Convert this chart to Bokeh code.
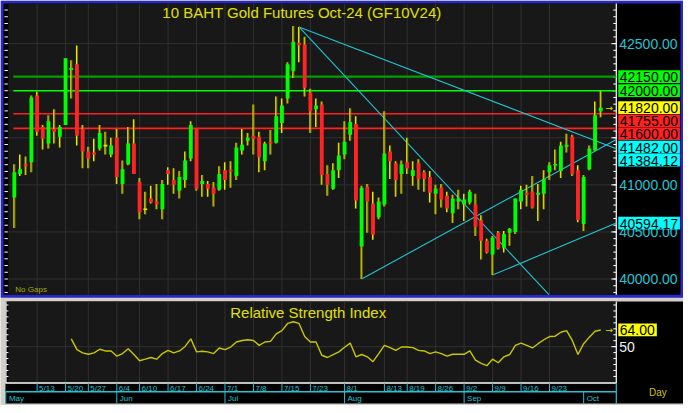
from bokeh.plotting import figure
from bokeh.models import Range1d
from bokeh.embed import file_html
from bokeh.resources import INLINE
from bokeh.core.properties import value

# ---------------- data ----------------
opens = [40865, 41115, 41219, 41240, 41948, 41615, 41438, 41594, 41510, 41635,
         42219, 42281, 41594, 41354, 41344, 41385, 41417, 41323, 41500, 41010,
         41219, 41438, 41031, 40740, 40854, 40823, 40740, 41156, 41052, 40938,
         41052, 41281, 41594, 41010, 41010, 40969, 40948, 41156, 41156, 41094,
         41365, 41469, 41521, 41510, 41250, 41458, 41448, 41656, 41917, 42208,
         42510, 42490, 41979, 41802, 41854, 41115, 40958, 41156, 41323, 41531,
         41646, 40344, 40979, 40802, 40656, 40792, 41354, 41229, 41115, 41240,
         41094, 41229, 41135, 41083, 40906, 40969, 40885, 40698, 40823, 40792,
         40813, 40792, 40625, 40406, 40260, 40490, 40333, 40490, 40500, 40823,
         40917, 40927, 40896, 40906, 41135, 41208, 41146, 41406, 41510, 41156,
         40583, 41167, 41365, 41781]
highs = [41219, 41323, 41302, 41948, 41990, 41635, 41740, 41802, 41635, 42344,
         42323, 42479, 41635, 41406, 41490, 41635, 41563, 41500, 41594, 41260,
         41615, 41698, 41073, 40927, 40990, 41010, 41052, 41188, 41177, 41146,
         41354, 41677, 41594, 41104, 41042, 41031, 41198, 41240, 41250, 41448,
         41594, 41552, 41854, 41563, 41458, 41583, 41938, 41917, 42302, 42688,
         42677, 42573, 42021, 41917, 41885, 41208, 41229, 41448, 41677, 41813,
         41729, 40990, 41010, 40927, 40865, 41781, 41417, 41250, 41260, 41500,
         41250, 41271, 41156, 41146, 41000, 41010, 40927, 40896, 40948, 40906,
         40948, 40906, 40677, 40427, 40458, 40510, 40510, 40542, 40854, 40990,
         41000, 41094, 41010, 41156, 41240, 41375, 41458, 41542, 41531, 41208,
         41104, 41417, 41885, 42000]
lows = [40542, 41094, 41104, 41135, 41521, 41375, 41385, 41438, 41396, 41635,
        41917, 41417, 41177, 41177, 41250, 41365, 41323, 41292, 41010, 40906,
        41208, 41115, 40635, 40688, 40802, 40740, 40635, 41000, 40906, 40854,
        40969, 41250, 40938, 40875, 40875, 40771, 40938, 40948, 40969, 41052,
        41323, 41417, 41323, 41135, 41156, 41323, 41438, 41552, 41865, 42135,
        42302, 41938, 41552, 41615, 41000, 40885, 40948, 41073, 41271, 41469,
        40750, 40000, 40490, 40417, 40635, 40771, 41063, 40875, 40906, 41115,
        40990, 40948, 40927, 40813, 40688, 40760, 40708, 40594, 40740, 40615,
        40792, 40458, 40208, 40271, 40042, 40313, 40281, 40354, 40479, 40740,
        40771, 40750, 40615, 40740, 41052, 41156, 41073, 41344, 41094, 40604,
        40510, 41156, 41365, 41719]
closes = [41135, 41167, 41198, 41927, 41563, 41490, 41677, 41563, 41615, 42344,
          42240, 41521, 41354, 41281, 41323, 41552, 41417, 41417, 41083, 41167,
          41438, 41115, 40708, 40740, 40813, 40792, 41010, 41115, 41000, 41083,
          41260, 41635, 40958, 41042, 40958, 40906, 41115, 41052, 41146, 41396,
          41427, 41500, 41490, 41292, 41438, 41438, 41729, 41844, 42281, 42521,
          42479, 42031, 41781, 41844, 41104, 41000, 41156, 41313, 41458, 41667,
          40833, 40969, 40823, 40469, 40823, 41333, 41250, 41052, 41219, 41177,
          41156, 41063, 41063, 40917, 40958, 40844, 40750, 40854, 40854, 40844,
          40927, 40552, 40406, 40281, 40438, 40323, 40479, 40531, 40854, 40948,
          40896, 40760, 40917, 41063, 41208, 41219, 41417, 41427, 41115, 40625,
          41083, 41385, 41740, 41820]

rsi_first_bar = 10
rsi_values = [56.6, 47.5, 44.8, 43.6, 44.8, 47.8, 46.4, 46.4, 42.0, 44.2,
              48.3, 43.4, 38.2, 39.5, 40.9, 39.5, 44.2, 46.9, 44.8, 46.4,
              50.2, 56.6, 45.6, 46.1, 45.6, 44.2, 48.9, 47.5, 49.7, 53.9,
              55.2, 55.8, 55.2, 51.1, 53.9, 54.4, 60.7, 63.5, 69.5, 70.9,
              69.5, 58.5, 53.9, 53.9, 42.8, 40.9, 43.4, 45.6, 49.5, 53.0,
              41.5, 43.4, 41.5, 37.4, 44.2, 51.1, 49.2, 46.9, 49.7, 49.7,
              49.2, 46.9, 46.4, 44.2, 45.6, 44.2, 42.0, 43.6, 43.6, 43.6,
              46.4, 38.7, 36.0, 34.0, 39.5, 36.5, 41.5, 43.4, 51.1, 53.0,
              51.1, 48.9, 52.5, 55.8, 58.5, 58.8, 62.1, 63.5, 55.2, 43.4,
              52.5, 58.0, 62.9, 64.0]

date_tick_bars = [4, 9, 13, 18, 22, 27, 32, 37, 42, 47, 52, 58, 65, 69, 74, 79, 84, 89, 94]
date_tick_labels = ["5/13", "5/20", "5/27", "6/4", "6/10", "6/17", "6/24", "7/1", "7/8",
                    "7/15", "7/23", "8/1", "8/13", "8/19", "8/26", "9/2", "9/9", "9/16", "9/23"]
month_tick_bars = [-1.5, 18, 37, 58, 79, 100]
month_labels = ["May", "Jun", "Jul", "Aug", "Sep", "Oct"]

price_ticks = [40000, 40500, 41000, 41500, 42000, 42500]
rsi_ticks = [50]

level_prices = [42150, 42000, 41755, 41600]
level_colors = ["#00a000", "#00ff00", "#ff2020", "#ff2020"]

trend_x0 = [50, 50, 61, 84]
trend_y0 = [42677, 42677, 40000, 40042]
trend_x1 = [105.73, 93.9, 105.73, 105.73]
trend_y1 = [41384.12, 39833, 41482.00, 40594.17]

tag_values = [42150.00, 42000.00, 41820.00, 41755.00, 41600.00, 41482.00, 41384.12, 40594.17]
tag_colors = ["#00ff00", "#00ff00", "#ffff00", "#ff2020", "#ff2020", "#00ffff", "#00ffff", "#00ffff"]

title_text = "10  BAHT  Gold  Futures  Oct-24  (GF10V24)"
rsi_title = "Relative  Strength  Index"

# ---------------- geometry / styling ----------------
W, H = 683, 405            # canvas
RW, RH = 691, 413          # reference layout the geometry is expressed in
FONT = "Liberation Sans"
PLOT_BG = "#181818"
GRID = "#303030"
CYAN = "#22c4d4"
YEL = "#e0e000"
BLUE = "#2828c8"
GRAY = "#d4d0c8"

# panel geometry in reference pixels
M_L, M_R, M_T, M_B = 8, 623, 3, 300       # main plot area
R_T, R_B = 307, 390                        # rsi plot area
D_MID, M_LINE, D_BOT = 395.5, 399, 411     # date rows


def bx(px):   # reference x pixel -> bar index
    return (px - 14.0) / 5.76


def py(px):   # reference y pixel -> price
    return 40000 + (284.0 - px) / 0.096


def ypx(price):
    return 284.0 - (price - 40000) * 0.096


def rpx(v):   # rsi value -> reference y pixel
    return 353.0 - (v - 50) * 1.214


def ry(px):
    return 50 + (353.0 - px) / 1.214


p = figure(width=W, height=H, x_range=Range1d(bx(0), bx(RW)), y_range=Range1d(py(RH), py(0)),
           extra_y_ranges={"rsi": Range1d(ry(RH), ry(0))},
           x_axis_location=None, y_axis_location=None, toolbar_location=None,
           output_backend="svg", title=None, min_border=0,
           background_fill_color=GRAY, border_fill_color=GRAY, outline_line_color=None)
p.grid.visible = False


def box(x0, y0, x1, y1, color):
    p.quad(left=bx(x0), right=bx(x1), top=py(y0), bottom=py(y1),
           fill_color=color, line_color=None)


def hseg(x0, x1, ys, color, w=1.0):
    ys = list(ys)
    p.segment(x0=[bx(x0)] * len(ys), x1=[bx(x1)] * len(ys), y0=[py(y) for y in ys],
              y1=[py(y) for y in ys], line_color=color, line_width=w)


def vseg(xs, y0, y1, color, w=1.0):
    xs = list(xs)
    p.segment(x0=xs, x1=xs, y0=[py(y0)] * len(xs), y1=[py(y1)] * len(xs),
              line_color=color, line_width=w)


def txt(xs, ys, ss, color, size, align="left", baseline="middle", font=FONT):
    p.text(x=xs, y=ys, text=ss, text_color=color, text_font=value(font),
           text_font_size=value(size), text_align=align, text_baseline=baseline)


def text_width(s, size):
    return sum(0.556 * size if ch.isdigit() else 0.278 * size for ch in s)


# ---- panel backgrounds ----
box(0, 0, RW, 303, BLUE)
box(3, 3, RW - 3, 300, "#000000")
box(M_L, M_T, M_R, M_B, PLOT_BG)
box(5, R_T, RW, D_BOT, "#000000")
box(M_L, R_T, M_R, R_B, PLOT_BG)

# ---- grids ----
vseg(date_tick_bars, M_T, M_B, GRID)
hseg(M_L, M_R, [ypx(t) for t in price_ticks], GRID)
vseg(date_tick_bars, R_T, R_B, GRID)
hseg(M_L, M_R, [rpx(t) for t in rsi_ticks], GRID)

# ---- price axis furniture ----
step = (price_ticks[1] - price_ticks[0]) / 7
minor = [price_ticks[0] + step * k for k in range(-3, 45)
         if M_T + 2 < ypx(price_ticks[0] + step * k) < M_B - 1]
hseg(4, 7.5, [ypx(m) for m in minor], "white")
vseg([bx(M_R)], M_T, M_B, "white", 1.2)
hseg(M_R - 3, M_R, [ypx(m) for m in minor], "white")
hseg(M_R - 5, M_R, [ypx(t) for t in price_ticks], "white")

# ---- rsi axis furniture ----
rsi_minor = [v for v in range(20, 90, 5) if R_T + 2 < rpx(v) < R_B - 1]
vseg([bx(5.5)], R_T, R_B, "white", 1.2)
hseg(5.5, 8, [rpx(v) for v in rsi_minor], "white")
vseg([bx(M_R)], R_T, R_B, "white", 1.2)
hseg(M_R - 3, M_R, [rpx(v) for v in rsi_minor], "white")
hseg(M_R - 5, M_R, [rpx(v) for v in rsi_ticks], "white")
hseg(5, M_R, [R_B], "white", 1.6)

# ---- date rows ----
vseg(date_tick_bars, R_B, M_LINE, CYAN)
hseg(5, M_R, [M_LINE], CYAN, 1.3)
vseg([b if b > bx(5) else bx(5.5) for b in month_tick_bars], M_LINE, D_BOT, CYAN)
vseg([bx(M_R)], R_B, D_BOT, CYAN, 1.2)
txt([b + 2 / 5.76 for b in date_tick_bars], [py(D_MID)] * len(date_tick_bars),
    date_tick_labels, CYAN, "8px")
txt([max(b, bx(5.5)) + 3 / 5.76 for b in month_tick_bars],
    [py((M_LINE + D_BOT) / 2 + 0.5)] * len(month_tick_bars), month_labels, CYAN, "8px")
txt([bx(665)], [py(400)], ["Day"], "#c8c800", "10px", align="center")

# ---- horizontal levels and trend lines ----
for lv, lc in zip(level_prices, level_colors):
    p.segment(x0=[bx(13)], y0=[lv], x1=[bx(M_R)], y1=[lv], line_color=lc,
              line_width=2.4 if lc == "#00a000" else 1.6)
p.segment(x0=trend_x0, y0=trend_y0, x1=trend_x1, y1=trend_y1, line_color=CYAN, line_width=1.1)

# ---- candles ----
n = len(opens)
xs = list(range(n))
min_h = 1.6 / 0.096
body_top, body_bot, body_col = [], [], []
for o, c in zip(opens, closes):
    t, b = max(o, c), min(o, c)
    if t - b < min_h:
        m = (t + b) / 2
        t, b = m + min_h / 2, m - min_h / 2
    body_top.append(t)
    body_bot.append(b)
    body_col.append("#00ff00" if c > o else ("#ff2424" if c < o else "#e8e800"))

half = 0.5 / 5.76
p.segment(x0=[x + half for x in xs], y0=lows, x1=[x + half for x in xs], y1=highs,
          line_color="#7c7c00", line_width=1.1)
p.segment(x0=[x - half for x in xs], y0=lows, x1=[x - half for x in xs], y1=highs,
          line_color="#e8e800", line_width=1.1)
p.vbar(x=xs, width=0.68, top=body_top, bottom=body_bot, fill_color=body_col, line_color=None)

# ---- rsi line ----
rsi_x = list(range(rsi_first_bar, rsi_first_bar + len(rsi_values)))
p.line(rsi_x, rsi_values, line_color="#c8c800", line_width=1.4, y_range_name="rsi")

# ---- titles and notes ----
mid = (bx(M_L) + bx(M_R)) / 2
txt([mid], [py(12)], [title_text], YEL, "15px", align="center")
txt([mid], [py(R_T + 11)], [rsi_title], YEL, "15px", align="center")
txt([bx(15)], [py(M_B - 1)], ["No Gaps"], "#a8a800", "8px", baseline="bottom")
txt([n - 1 + 0.85], [closes[-1]], ["→"], YEL, "9px", font="DejaVu Sans")
txt([rsi_x[-1] + 0.85], [py(rpx(rsi_values[-1]))], ["→"], YEL, "9px", font="DejaVu Sans")

# ---- price tags (stacked so they do not overlap) ----
TAG_H = 13.4
tag_y = []
prev = -1e9
order = sorted(zip(tag_values, tag_colors), key=lambda t: -t[0])
for v, col in order:
    yv = max(ypx(v), prev + TAG_H)
    prev = yv
    tag_y.append(yv)

# axis labels (skip the ones hidden behind a tag)
lab_x = M_R + 3
for t in price_ticks:
    if all(abs(ypx(t) - yv) > 6 for yv in tag_y):
        txt([bx(lab_x)], [t], ["%.2f" % t], CYAN, "14px")
txt([bx(lab_x)], [py(rpx(rsi_ticks[0]))], ["%d" % rsi_ticks[0]], "#f0f0f0", "14px")

for (v, col), yv in zip(order, tag_y):
    s = "%.2f" % v
    box(M_R + 2, yv - TAG_H / 2 + 0.2, M_R + 2 + text_width(s, 14) + 4, yv + TAG_H / 2 - 0.2, col)
    txt([bx(M_R + 3.5)], [py(yv + 0.5)], [s], "black", "14px")

s = "%.2f" % rsi_values[-1]
yv = rpx(rsi_values[-1])
box(M_R + 2, yv - TAG_H / 2 + 0.2, M_R + 2 + text_width(s, 14) + 4, yv + TAG_H / 2 - 0.2, "#ffff00")
txt([bx(M_R + 3.5)], [py(yv + 0.5)], [s], "black", "14px")

open("out.html", "w").write(file_html(p, INLINE))
